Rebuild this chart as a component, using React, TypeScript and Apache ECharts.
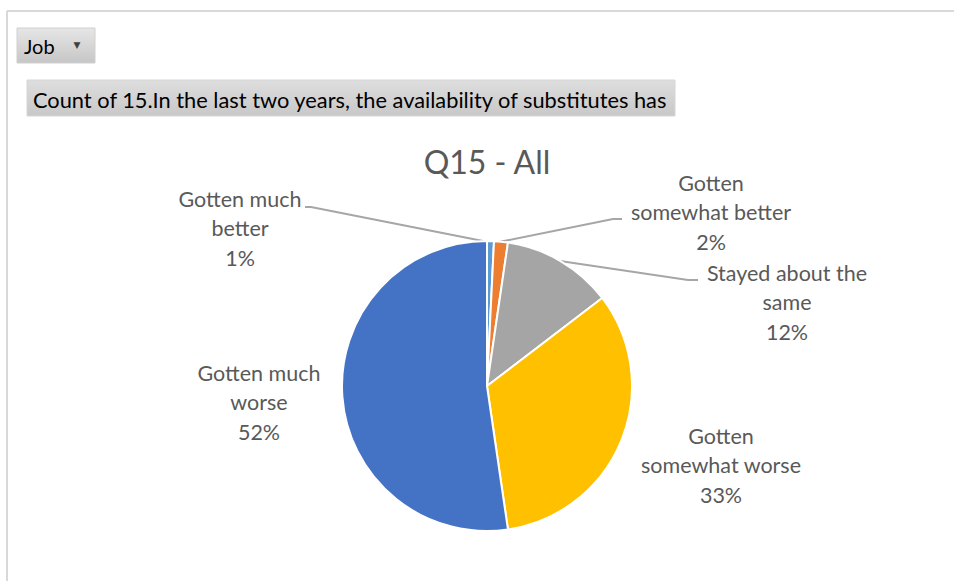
import React, { useEffect, useRef } from "react";
import * as echarts from "echarts";

const categories = [
  "Gotten much better",
  "Gotten somewhat better",
  "Stayed about the same",
  "Gotten somewhat worse",
  "Gotten much worse",
];
const wrappedNames = [
  "Gotten much\nbetter",
  "Gotten\nsomewhat better",
  "Stayed about the\nsame",
  "Gotten\nsomewhat worse",
  "Gotten much\nworse",
];
const counts = [1, 2, 16, 43, 68];
const colors = ["#5B9BD5", "#ED7D31", "#A5A5A5", "#FFC000", "#4472C4"];
const chartTitle = "Q15 - All";
const filterLabel = "Job";
const fieldLabel = "Count of 15.In the last two years, the availability of substitutes has";

// layout only
const labelPos = [
  [240, 228],
  [711, 212],
  [787, 302],
  [721, 465],
  [259, 402],
];
const leaderPts: (number[][] | null)[] = [
  [[488, 242], [311, 207], [305, 207]],
  [[499, 242], [613, 219], [622, 219]],
  [[560, 261], [688, 280], [698, 280]],
  null,
  null,
];

export default function App() {
  const ref = useRef<HTMLDivElement>(null);
  useEffect(() => {
    if (!ref.current) return;
    const chart = echarts.init(ref.current, undefined, { renderer: "svg" });
    const grayGrad = new echarts.graphic.LinearGradient(0, 0, 0, 1, [
      { offset: 0, color: "#e6e6e6" },
      { offset: 1, color: "#c6c6c6" },
    ]);
    const grayGrad2 = new echarts.graphic.LinearGradient(0, 0, 0, 1, [
      { offset: 0, color: "#dedede" },
      { offset: 1, color: "#c8c8c8" },
    ]);
    chart.setOption({
      animation: false,
      backgroundColor: "#ffffff",
      graphic: [
        { type: "line", shape: { x1: 7, y1: 11, x2: 954, y2: 11 }, style: { stroke: "#d9d9d9", lineWidth: 2 } },
        { type: "line", shape: { x1: 7, y1: 11, x2: 7, y2: 581 }, style: { stroke: "#d9d9d9", lineWidth: 2 } },
        { type: "rect", shape: { x: 17, y: 28, width: 78, height: 35 }, style: { fill: grayGrad, stroke: "#d0d0d0" } },
        {
          type: "text",
          x: 24,
          y: 46,
          style: { text: filterLabel, fontFamily: "Lato", fontSize: 20, fill: "#000", textVerticalAlign: "middle" },
        },
        {
          type: "text",
          x: 77,
          y: 45,
          style: { text: "▼", fontFamily: "DejaVu Sans", fontSize: 9, fill: "#404040", textAlign: "center", textVerticalAlign: "middle" },
        },
        { type: "rect", shape: { x: 27, y: 80, width: 648, height: 36 }, style: { fill: grayGrad2, stroke: "#d6d6d6" } },
        {
          type: "text",
          x: 33,
          y: 99,
          style: { text: fieldLabel, fontFamily: "Lato", fontSize: 21.8, fill: "#000", textVerticalAlign: "middle" },
        },
        {
          type: "text",
          x: 487,
          y: 161,
          style: { text: chartTitle, fontFamily: "Lato", fontSize: 32, fill: "#595959", textAlign: "center", textVerticalAlign: "middle" },
        },
      ],
      series: [
        {
          type: "pie",
          center: [487, 386],
          radius: 145,
          startAngle: 90,
          clockwise: true,
          percentPrecision: 0,
          itemStyle: { borderColor: "#ffffff", borderWidth: 2 },
          label: {
            show: true,
            formatter: (p: any) => wrappedNames[p.dataIndex] + "\n" + p.percent + "%",
            fontFamily: "Lato",
            fontSize: 21.5,
            lineHeight: 29.5,
            color: "#595959",
            align: "center",
          },
          labelLine: { show: true, lineStyle: { color: "#a6a6a6", width: 2 } },
          labelLayout: (params: any) => {
            const i = params.dataIndex;
            const res: any = {
              x: labelPos[i][0],
              y: labelPos[i][1],
              align: "center",
              verticalAlign: "middle",
            };
            if (leaderPts[i]) res.labelLinePoints = leaderPts[i];
            return res;
          },
          data: categories.map((name, i) => ({
            name,
            value: counts[i],
            itemStyle: { color: colors[i] },
            labelLine: { show: leaderPts[i] !== null },
          })),
        },
      ],
    });
    return () => chart.dispose();
  }, []);
  return <div ref={ref} style={{ position: "absolute", left: 0, top: 0, width: 954, height: 581 }} />;
}
